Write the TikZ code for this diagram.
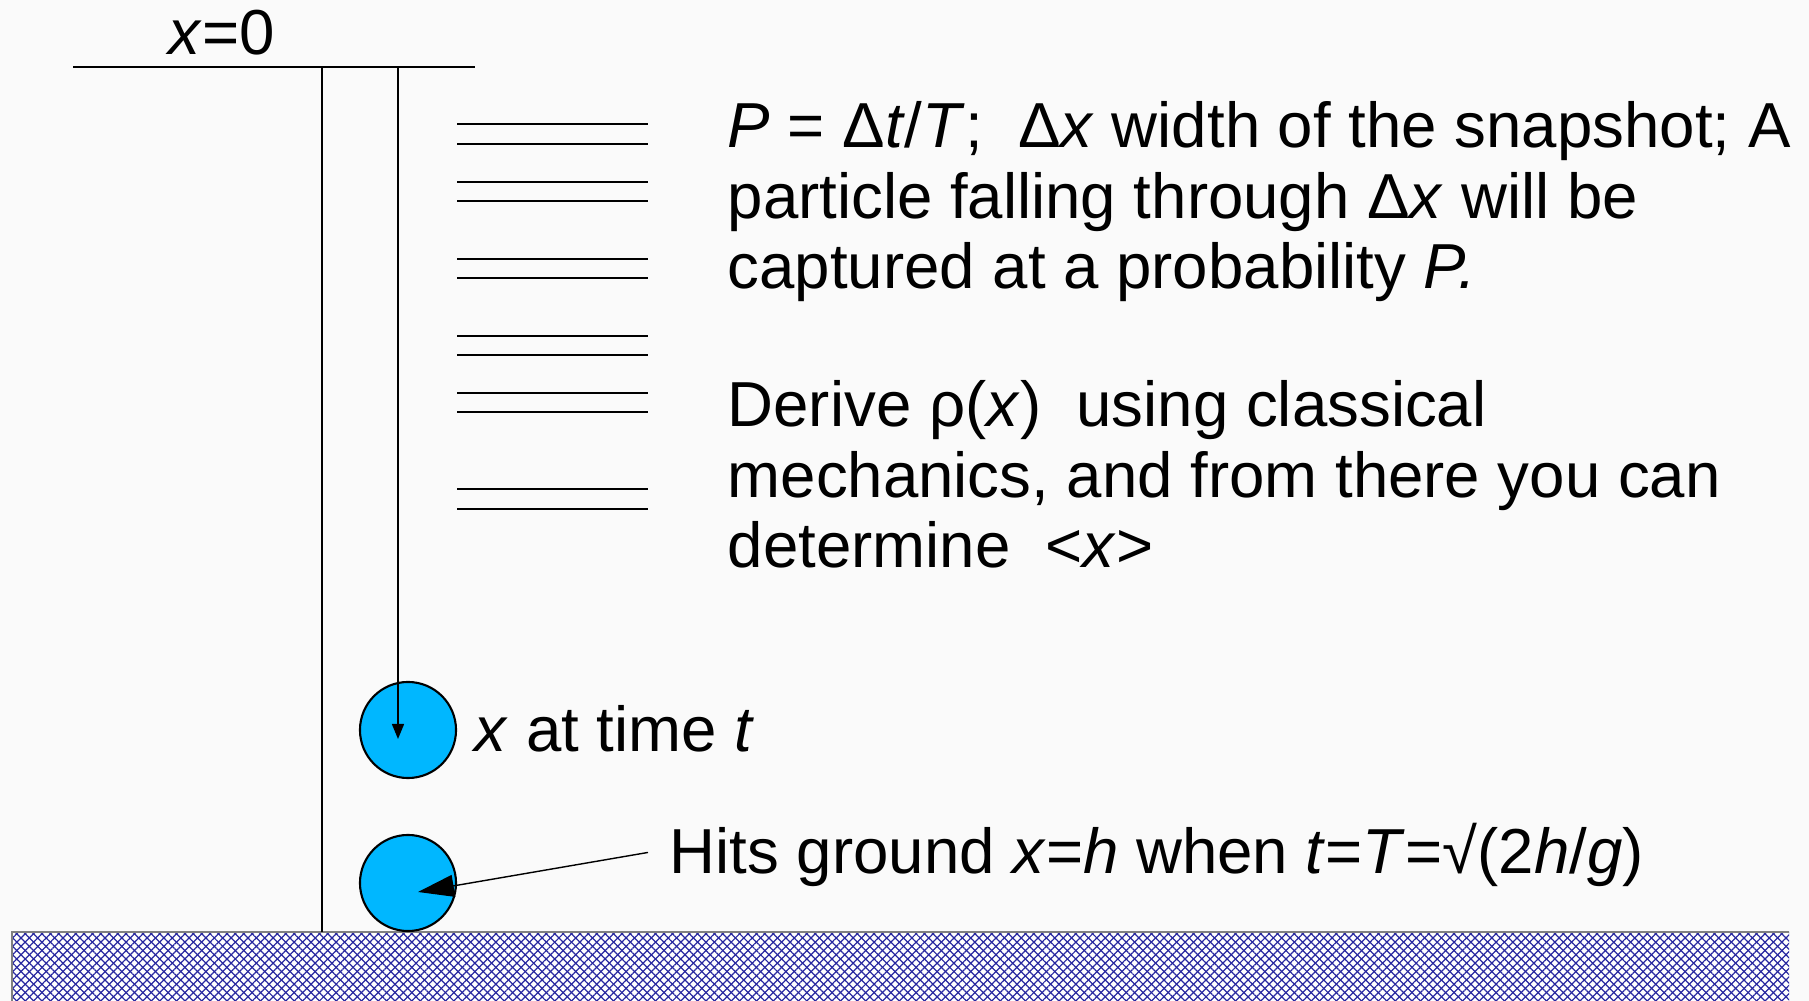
\documentclass[tikz,border=0pt]{standalone}
\usepackage{fontspec}
\setmainfont{Liberation Sans}
\usetikzlibrary{arrows.meta,patterns.meta}
\definecolor{cball}{RGB}{0,183,255}
\definecolor{cground}{RGB}{40,40,160}
\tikzset{fallsec/.style={x=0.01cm,y=-0.01cm,font=\fontsize{18.08}{20.1}\selectfont},
  ball/.style={circle,draw,semithick,fill=cball,minimum size=0.96cm,inner sep=0pt},
  lbl/.style={anchor=base west,inner sep=0pt,align=left}}

\begin{document}
\begin{tikzpicture}[fallsec]
    \useasboundingbox (0,0) rectangle (1809,1001);
    \fill[black!2] (0,0) rectangle (1809,1001);
    % ground
    \fill[white] (12,932) rectangle (1789,1001);
    \fill[pattern={Lines[angle=45,distance=1.69pt,line width=0.35pt]},pattern color=cground] (12,932) rectangle (1789,1001);
    \fill[pattern={Lines[angle=-45,distance=1.69pt,line width=0.35pt]},pattern color=cground] (12,932) rectangle (1789,1001);
    \draw[gray,thin] (12,1001) -- (12,932) -- (1789,932);
    % x=0 level and height
    \coordinate (top) at (322,67);
    \coordinate (drop) at (398,67);
    \draw (73,67) -- (475,67);
    \node[lbl] (zero) at (168,55) {\textit{x}=0};
    \draw (top) -- (322,932);
    % snapshots
    \foreach \y in {124,144,182,201,259,278,336,355,393,412,489,509} \draw (457,\y) -- (648,\y);
    % particle
    \node[ball] (b1) at (408,730) {};
    \node[ball] (b2) at (408,883) {};
    \coordinate (tip1) at (398,739);
    \coordinate (tip2) at (418,892);
    \draw[-{Triangle[width=0.12cm,length=0.15cm]}] (drop) -- (tip1);
    \node[lbl] (xt) at (474,752) {\textit{x} at time \textit{t}};
    \node[lbl] (hits) at (669,874) {Hits ground \textit{x}=\textit{h} when \textit{t}=\textit{T}=√(2\textit{h}/\textit{g})};
    \draw[thin,-{Triangle[width=0.22cm,length=0.36cm]}] ([xshift=-0.21cm,yshift=0.03cm]hits.west) -- (tip2);
    \node[lbl] (snap) at (727,289) {\textit{P} = Δ\textit{t}/\textit{T};\ \ Δ\textit{x} width of the snapshot; A\\
      particle falling through Δ\textit{x} will be\\
      captured at a probability \textit{P.}};
    \node[lbl] (rho) at (727,568) {Derive ρ(\textit{x})\ \ using classical\\
      mechanics, and from there you can\\
      determine\ \ <\textit{x}>};
  \end{tikzpicture}
\end{document}
